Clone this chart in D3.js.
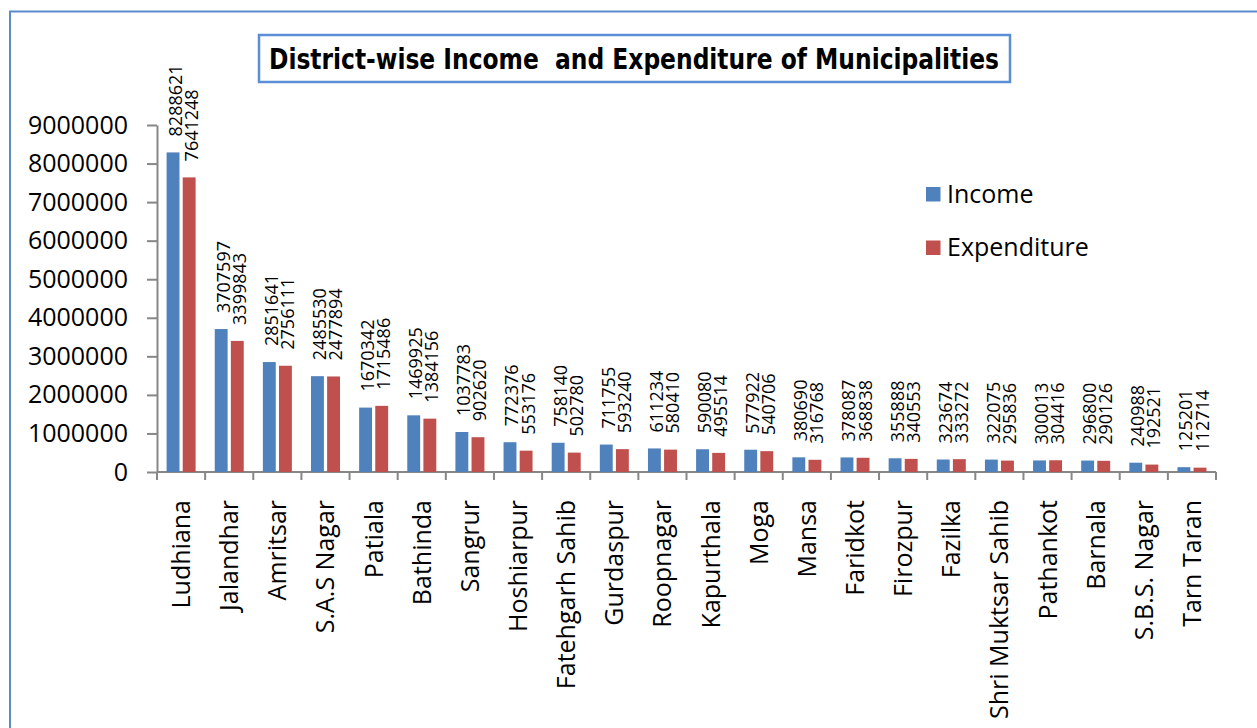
<!DOCTYPE html>
<html>
<head>
<meta charset="utf-8">
<script src="https://cdn.jsdelivr.net/npm/d3@7"></script>
<style>
  body { margin: 0; background: #fff; }
  svg { display: block; }
  .axis text { font-family: "Open Sans", sans-serif; font-size: 25px; fill: #000; }
  .axis path, .axis line { stroke: #878787; stroke-width: 2; }
</style>
</head>
<body>
<div id="svg-container"></div>
<script>
////////////////////////////  Data  ///////////////////////////////
const districts = ["Ludhiana", "Jalandhar", "Amritsar", "S.A.S Nagar", "Patiala", "Bathinda",
  "Sangrur", "Hoshiarpur", "Fatehgarh Sahib", "Gurdaspur", "Roopnagar", "Kapurthala", "Moga",
  "Mansa", "Faridkot", "Firozpur", "Fazilka", "Shri Muktsar Sahib", "Pathankot", "Barnala",
  "S.B.S. Nagar", "Tarn Taran"];
const income = [8288621, 3707597, 2851641, 2485530, 1670342, 1469925, 1037783, 772376, 758140,
  711755, 611234, 590080, 577922, 380690, 378087, 355888, 323674, 322075, 300013, 296800,
  240988, 125201];
const expenditure = [7641248, 3399843, 2756111, 2477894, 1715486, 1384156, 902620, 553176,
  502780, 593240, 580410, 495514, 540706, 316768, 368838, 340553, 333272, 295836, 304416,
  290126, 192521, 112714];
const seriesNames = ["Income", "Expenditure"];
const yTicks = [0, 1000000, 2000000, 3000000, 4000000, 5000000, 6000000, 7000000, 8000000, 9000000];
const titleText = "District-wise Income  and Expenditure of Municipalities";

////////////////////////////  Init  ///////////////////////////////
const width = 1257, height = 728;
const svg = d3.select("#svg-container").append("svg")
  .attr("width", width).attr("height", height);

// outer chart border (runs off the right/bottom edge like the source)
svg.append("rect")
  .attr("x", 10).attr("y", 11.5).attr("width", 1300).attr("height", 800)
  .attr("fill", "none").attr("stroke", "#5a8bcd").attr("stroke-width", 2);

const colorScale = d3.scaleOrdinal().domain(seriesNames).range(["#4f81bd", "#c0504d"]);

const xScale = d3.scaleBand().domain(districts).range([157, 1216]);
const x1 = d3.scaleBand().domain(seriesNames).range([9.6, 38.6]).paddingInner(0.2);
const yScale = d3.scaleLinear().domain([0, 9000000]).range([472, 125]);

const rows = districts.map((d, i) => ({ district: d, Income: income[i], Expenditure: expenditure[i] }));

////////////////////////////  Axes  ///////////////////////////////
const yAxis = d3.axisLeft(yScale).tickValues(yTicks).tickFormat(d3.format("d"))
  .tickSize(10).tickSizeOuter(0).tickPadding(19);
svg.append("g").attr("class", "axis y-axis")
  .attr("transform", "translate(157,0)")
  .call(yAxis);

const xAxis = svg.append("g").attr("class", "axis x-axis");
xAxis.append("line")
  .attr("x1", xScale.range()[0]).attr("x2", xScale.range()[1])
  .attr("y1", yScale(0)).attr("y2", yScale(0));
// tick marks at category boundaries
const bounds = districts.map(d => xScale(d)).concat([xScale.range()[1]]);
xAxis.selectAll(".tick-mark").data(bounds).enter().append("line")
  .attr("class", "tick-mark")
  .attr("x1", d => d).attr("x2", d => d)
  .attr("y1", yScale(0)).attr("y2", yScale(0) + 8);
xAxis.selectAll(".cat").data(districts).enter().append("text")
  .attr("class", "cat")
  .attr("text-anchor", "end")
  .attr("transform", d => `translate(${xScale(d) + xScale.bandwidth() / 2 + 9},${yScale(0) + 28}) rotate(-90)`)
  .text(d => d);

////////////////////////////  Bars  ///////////////////////////////
const groups = svg.selectAll(".grp").data(rows).enter().append("g")
  .attr("class", "grp")
  .attr("transform", d => `translate(${xScale(d.district)},0)`);

const cells = groups.selectAll(".cell")
  .data(d => seriesNames.map(k => ({ key: k, value: d[k] })))
  .enter();

cells.append("rect")
  .attr("x", d => x1(d.key))
  .attr("y", d => yScale(d.value))
  .attr("width", x1.bandwidth())
  .attr("height", d => yScale(0) - yScale(d.value))
  .attr("fill", d => colorScale(d.key));

cells.append("text")
  .attr("transform", d => `translate(${x1(d.key) + x1.bandwidth() / 2 + 8.5},${yScale(d.value) - 16}) rotate(-90)`)
  .attr("font-family", "'Open Sans', sans-serif")
  .attr("font-size", 18)
  .text(d => d.value);

////////////////////////////  Title  //////////////////////////////
svg.append("rect")
  .attr("x", 259).attr("y", 35).attr("width", 751).attr("height", 47)
  .attr("fill", "#fff").attr("stroke", "#5a8fd6").attr("stroke-width", 2.5);
const title = svg.append("text")
  .attr("x", 634).attr("y", 68.5)
  .attr("text-anchor", "middle")
  .attr("font-family", "'Liberation Sans Narrow', 'DejaVu Sans Condensed', 'Open Sans', sans-serif")
  .attr("font-weight", "bold")
  .attr("font-size", 28.5)
  .style("white-space", "pre")
  .attr("xml:space", "preserve")
  .text(titleText);
title.attr("textLength", 730).attr("lengthAdjust", "spacingAndGlyphs");

////////////////////////////  Legend  /////////////////////////////
const legend = svg.selectAll(".legend").data(seriesNames).enter().append("g")
  .attr("class", "legend")
  .attr("transform", (d, i) => `translate(926,${187 + i * 53.5})`);
legend.append("rect").attr("width", 14.5).attr("height", 14.5).attr("fill", d => colorScale(d));
legend.append("text")
  .attr("x", 21).attr("y", 15.5)
  .attr("font-family", "'Open Sans', sans-serif").attr("font-size", 25)
  .text(d => d);
</script>
</body>
</html>
